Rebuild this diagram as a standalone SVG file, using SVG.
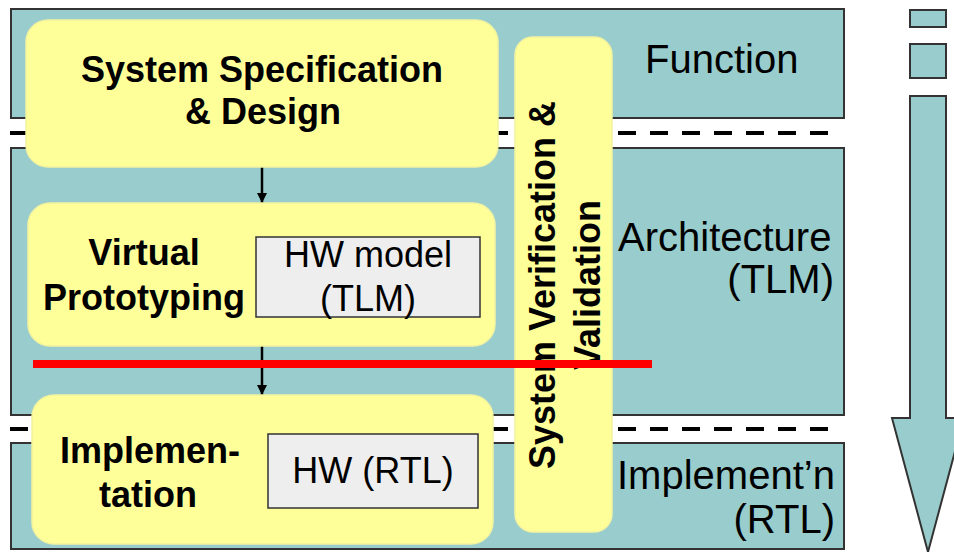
<svg xmlns="http://www.w3.org/2000/svg" width="954" height="552" viewBox="0 0 954 552">
<style>
.band{fill:#99CCCC;stroke:#333333;stroke-width:2}
.box{fill:#FFFF99;stroke:#F2F2A0;stroke-width:1.5}
.hw{fill:#EEEEEE;stroke:#333333;stroke-width:1.5}
.dash{stroke:#000000;stroke-width:4;stroke-dasharray:18 14;fill:none}
.b{font-family:"Liberation Sans",Arial,sans-serif;font-weight:bold;font-size:36px;fill:#000;text-anchor:middle}
.r{font-family:"Liberation Sans",Arial,sans-serif;font-size:40px;fill:#000}
.h{font-family:"Liberation Sans",Arial,sans-serif;font-size:36px;fill:#000;text-anchor:middle}
.conn{stroke:#000;stroke-width:2.5;fill:none;marker-end:url(#ah)}
</style>
<defs>
<marker id="ah" markerWidth="10" markerHeight="10" refX="10" refY="5" orient="auto" markerUnits="userSpaceOnUse" viewBox="0 0 10 10">
<path d="M0,0 L10,5 L0,10 Z" fill="#000"/>
</marker>
</defs>
<rect width="954" height="552" fill="#FFFFFF"/>
<g id="bands">
<rect class="band" x="11" y="9" width="833" height="109"/>
<rect class="band" x="11" y="148" width="833" height="267"/>
<rect class="band" x="11" y="443" width="833" height="106"/>
<line class="dash" x1="10" y1="133" x2="832" y2="133"/>
<line class="dash" x1="10" y1="429" x2="832" y2="429"/>
</g>
<g id="scale-arrow">
<rect class="band" x="910" y="10" width="36" height="17"/>
<rect class="band" x="910" y="44" width="36" height="34"/>
<path class="band" d="M910,96 L946,96 L946,418 L964,418 L928,552 L892,418 L910,418 Z"/>
</g>
<g id="level-labels">
<text class="r" x="645" y="73">Function</text>
<text class="r" x="618" y="251">Architecture</text>
<text class="r" x="834" y="293" text-anchor="end">(TLM)</text>
<text class="r" x="617" y="489">Implement’n</text>
<text class="r" x="835" y="533" text-anchor="end">(RTL)</text>
</g>
<g id="connectors">
<line class="conn" x1="262" y1="167" x2="262" y2="203"/>
<line class="conn" x1="262" y1="346" x2="262" y2="395"/>
</g>
<g id="spec">
<rect class="box" x="26" y="20" width="472" height="147" rx="22"/>
<text class="b" x="262" y="82">System Specification</text>
<text class="b" x="263" y="124">&amp; Design</text>
</g>
<g id="vp">
<rect class="box" x="28" y="203" width="467" height="143" rx="22"/>
<text class="b" x="144" y="265">Virtual</text>
<text class="b" x="144" y="310">Prototyping</text>
<g id="hw-model">
<rect class="hw" x="256" y="237" width="224" height="80"/>
<text class="h" x="368" y="267">HW model</text>
<text class="h" x="368" y="311">(TLM)</text>
</g>
</g>
<g id="impl">
<rect class="box" x="32" y="395" width="461" height="149" rx="22"/>
<text class="b" x="150" y="463">Implemen-</text>
<text class="b" x="148" y="507">tation</text>
<g id="hw-rtl">
<rect class="hw" x="268" y="434" width="210" height="74"/>
<text class="h" x="373" y="483">HW (RTL)</text>
</g>
</g>
<g id="vv">
<rect class="box" x="515" y="37" width="97" height="495" rx="18"/>
<g transform="translate(555,285) rotate(-90)">
<text class="b" x="0" y="0">System Verification &amp;</text>
<text class="b" x="0" y="45">Validation</text>
</g>
</g>
<g id="red-line">
<line x1="33" y1="364" x2="652" y2="364" stroke="#FF0000" stroke-width="8"/>
</g>
</svg>
